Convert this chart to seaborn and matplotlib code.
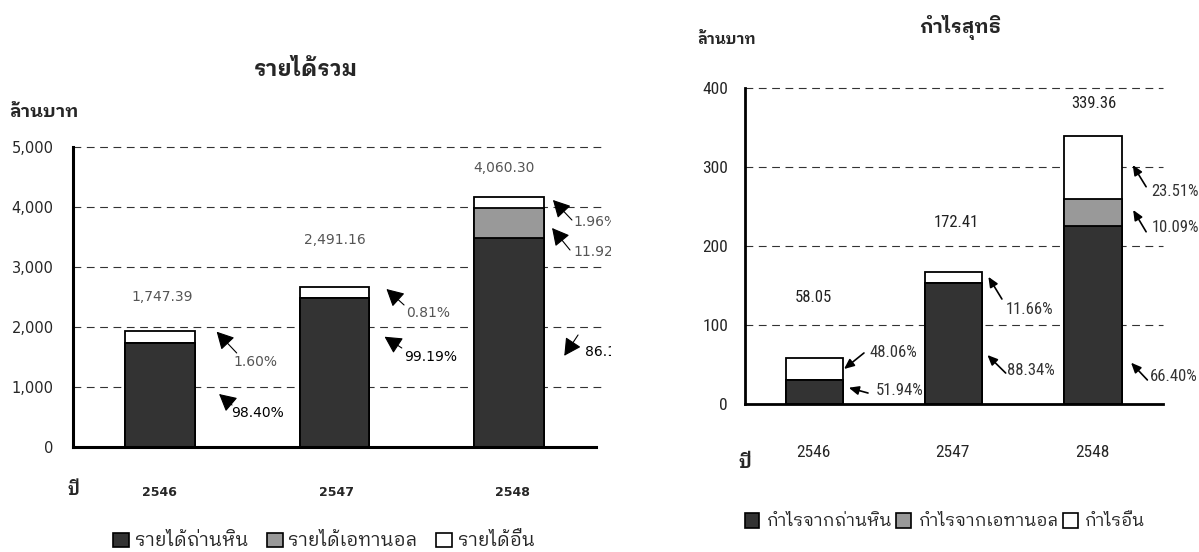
import numpy as np
import matplotlib
matplotlib.use("Agg")
import matplotlib.pyplot as plt
import seaborn as sns
from matplotlib import font_manager
from matplotlib.ft2font import FT2Font
from matplotlib.patches import Patch
from matplotlib.transforms import Bbox

# ---------------------------
# data
# ---------------------------
years = ["2546", "2547", "2548"]

# left chart: revenue, million baht (bar segments)
rev_coal = [1733, 2483, 3483]
rev_ethanol = [0, 0, 500]
rev_other = [200, 184, 184]
rev_total_labels = ["1,747.39", "2,491.16", "4,060.30"]
rev_ticks = [0, 1000, 2000, 3000, 4000, 5000]

# right chart: net profit, million baht
np_coal = [30, 153, 225]
np_ethanol = [0, 0, 35]
np_other = [28, 14, 79]
np_total_labels = ["58.05", "172.41", "339.36"]
np_ticks = [0, 100, 200, 300, 400]

rev_legend = ["รายได้ถ่านหิน", "รายได้เอทานอล", "รายได้อื่น"]
np_legend = ["กำไรจากถ่านหิน", "กำไรจากเอทานอล", "กำไรอื่น"]

DARK = "#333333"
GRAY = "#999999"

# ---------------------------
# fonts: find something that has Thai glyphs, and a narrow face if there is one
# ---------------------------
sns.set_style("white")
names = {f.name for f in font_manager.fontManager.ttflist}
thai = None
cands = sorted(font_manager.fontManager.ttflist, key=lambda f: ("Thai" not in f.name, "Looped" not in f.name))
for f in cands:
    try:
        if 0x0E01 in FT2Font(f.fname).get_charmap():
            thai = f.name
            break
    except Exception:
        pass
narrow = None
for n in ["Liberation Sans Narrow", "Roboto Condensed", "Open Sans Condensed", "DejaVu Sans Condensed"]:
    if n in names:
        narrow = n
        break
FAM_L = ["DejaVu Sans"] + ([thai] if thai else [])
FAM_R = [narrow or "Liberation Sans"] + ([thai] if thai else []) + ["DejaVu Sans"]
R_SIZE = 12 if narrow else 10.5
plt.rcParams["font.family"] = FAM_L

fig = plt.figure(figsize=(11.99, 5.52), dpi=100)
W, H = 1199, 552


def stacked(ax, coal, eth, other, width):
    c = np.array(coal, dtype=float)
    e = c + np.array(eth)
    t = e + np.array(other)
    for h, col in [(t, "white"), (e, GRAY), (c, DARK)]:
        sns.barplot(x=years, y=h, color=col, width=width, saturation=1,
                    edgecolor="black", linewidth=1.3, ax=ax, zorder=2)


def style_axes(ax, ticks, fam, size, spine_w, pad, ylen, grid_end):
    ax.set_xlim(-0.5, 2.5)
    ax.set_ylim(ticks[0], ticks[-1])
    ax.set_xlabel("")
    ax.set_ylabel("")
    ax.grid(False)
    ax.set_xticks([-0.5, 0.5, 1.5, 2.5])
    ax.set_xticklabels([])
    ax.set_yticks(ticks)
    ax.set_yticklabels([f"{t:,}" for t in ticks], family=fam, size=size)
    ax.tick_params(axis="x", direction="out", length=6, width=spine_w)
    ax.tick_params(axis="y", direction="out", length=ylen, width=spine_w, pad=pad)
    for s in ["top", "right"]:
        ax.spines[s].set_visible(False)
    for s in ["left", "bottom"]:
        ax.spines[s].set_linewidth(spine_w)
        ax.spines[s].set_color("black")
    ax.hlines(ticks[1:], -0.5, grid_end, colors="#333333", linestyles=(0, (7, 5)),
              linewidth=0.8, zorder=0.5, clip_on=False)


# ---------------------------
# left chart: รายได้รวม
# ---------------------------
ax1 = fig.add_axes([73 / W, (H - 447) / H, 523 / W, 300 / H])
stacked(ax1, rev_coal, rev_ethanol, rev_other, 0.4)
style_axes(ax1, rev_ticks, FAM_L, 10.5, 2.2, 7, 7, 2.55)

for i, lab in enumerate(rev_total_labels):
    ax1.text([0.01, 1.0, 1.97][i], [2500, 3450, 4650][i], lab, ha="center", va="center",
             size=10, color="#555555")

clip = Bbox.from_extents(0, 0, 611, H)
big_head = dict(arrowstyle="-|>,head_length=0.75,head_width=0.4", mutation_scale=14,
                color="black", lw=0.8, shrinkA=0, shrinkB=0)
# text, text pos, arrow tail, arrow tip, colour
rev_notes = [
    ("1.60%", (0.418, 1417), (0.439, 1567), (0.324, 1922), "#555555"),
    ("98.40%", (0.409, 567), (0.412, 700), (0.338, 883), "black"),
    ("0.81%", (1.408, 2238), (1.399, 2367), (1.298, 2633), "#555555"),
    ("99.19%", (1.397, 1500), (1.386, 1650), (1.287, 1838), "black"),
    ("1.96%", (2.370, 3750), (2.362, 3783), (2.253, 4117), "#555555"),
    ("11.92%", (2.370, 3250), (2.351, 3283), (2.248, 3650), "#555555"),
    ("86.12%", (2.437, 1583), (2.397, 1867), (2.318, 1520), "black"),
]
for txt, xyt, tail, tip, col in rev_notes:
    t = ax1.text(xyt[0], xyt[1], txt, ha="left", va="center", size=10, color=col)
    t.set_clip_box(clip)
    t.set_clip_on(True)
    ax1.annotate("", xy=tip, xytext=tail, arrowprops=big_head, annotation_clip=False)

xt = ax1.get_xaxis_transform()
for i, y in enumerate(years):
    ax1.text([-0.007, 1.009, 2.018][i], -0.15, y, transform=xt, ha="center", va="center",
             size=9, weight="bold")
ax1.text(-0.529, -0.143, "ปี", transform=xt, ha="left", va="center", size=12, weight="bold")

fig.text(9 / W, 1 - 112 / H, "ล้านบาท", ha="left", va="center", size=13, weight="bold")
fig.text(306 / W, 1 - 70 / H, "รายได้รวม", ha="center", va="center", size=16, weight="bold")

handles = [Patch(facecolor=c, edgecolor="black", linewidth=1.2) for c in [DARK, GRAY, "white"]]
fig.legend(handles, rev_legend, loc="center", bbox_to_anchor=(324 / W, 1 - 541 / H),
           ncol=3, frameon=False, prop={"family": FAM_L, "size": 13.5},
           handlelength=0.85, handleheight=0.8, handletextpad=0.3, columnspacing=1.0,
           borderpad=0)

# ---------------------------
# right chart: กำไรสุทธิ
# ---------------------------
ax2 = fig.add_axes([744.7 / W, (H - 404) / H, 418 / W, 316 / H])
stacked(ax2, np_coal, np_ethanol, np_other, 0.41)
style_axes(ax2, np_ticks, FAM_R, R_SIZE + 0.5, 2.0, 7, 5, 2.5)

for i, lab in enumerate(np_total_labels):
    ax2.text([-0.01, 1.017, 2.005][i], [135, 230, 380][i], lab, ha="center", va="center",
             size=R_SIZE, family=FAM_R, color="#222222")

small_head = dict(arrowstyle="-|>,head_length=0.5,head_width=0.22", mutation_scale=12,
                  color="black", lw=1.2, shrinkA=0, shrinkB=0)
np_notes = [
    ("48.06%", (0.398, 64.6), (0.356, 64.6), (0.213, 44.3)),
    ("51.94%", (0.439, 17.7), (0.385, 13.9), (0.247, 20.6)),
    ("11.66%", (1.373, 119), (1.346, 132.9), (1.249, 161)),
    ("88.34%", (1.379, 43), (1.373, 39.2), (1.242, 62)),
    ("23.51%", (2.415, 268.7), (2.381, 275), (2.285, 302.5)),
    ("10.09%", (2.424, 222.8), (2.381, 218), (2.288, 245.6)),
    ("66.40%", (2.41, 34.6), (2.39, 30.4), (2.273, 52.3)),
]
for txt, xyt, tail, tip in np_notes:
    ax2.text(xyt[0], xyt[1], txt, ha="left", va="center", size=R_SIZE,
             family=FAM_R, color="#333333")
    ax2.annotate("", xy=tip, xytext=tail, arrowprops=small_head, annotation_clip=False)

xt2 = ax2.get_xaxis_transform()
for i, y in enumerate(years):
    ax2.text([-0.01, 0.988, 1.994][i], -0.155, y, transform=xt2, ha="center", va="center",
             size=R_SIZE + 0.5, family=FAM_R)
ax2.text(-0.548, -0.187, "ปี", transform=xt2, ha="left", va="center", size=13,
         weight="bold", family=FAM_R)

fig.text(697 / W, 1 - 40 / H, "ล้านบาท", ha="left", va="center", size=11,
         weight="bold", family=FAM_R)
fig.text(960 / W, 1 - 27 / H, "กำไรสุทธิ", ha="center", va="center", size=14,
         weight="bold", family=FAM_R)

fig.legend(handles, np_legend, loc="center", bbox_to_anchor=(945 / W, 1 - 521 / H),
           ncol=3, frameon=False, prop={"family": FAM_R, "size": 12.5},
           handlelength=0.83, handleheight=0.95, handletextpad=0.44, columnspacing=0.25,
           borderpad=0)

fig.savefig("out.png", dpi=100)
